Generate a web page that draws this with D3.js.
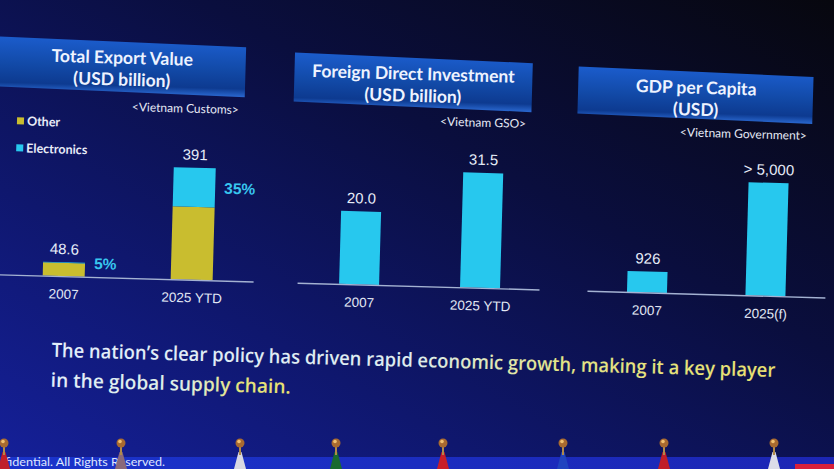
<!DOCTYPE html>
<html>
<head>
<meta charset="utf-8">
<script src="https://cdn.jsdelivr.net/npm/d3@7"></script>
<style>
  html, body { margin: 0; padding: 0; background: #0a0d2e; overflow: hidden; }
</style>
</head>
<body>
<div id="chart"></div>
<script>
// ---- data ----
const exportYears = ['2007', '2025 YTD']
const exportTotal = [48.6, 391]
const electronicsShare = [0.05, 0.35]
const exportLabels = ['48.6', '391']
const shareLabels = ['5%', '35%']

const fdiYears = ['2007', '2025 YTD']
const fdiValues = [20.0, 31.5]
const fdiLabels = ['20.0', '31.5']

const gdpYears = ['2007', '2025(f)']
const gdpValues = [926, 5000]
const gdpLabels = ['926', '> 5,000']

const legendItems = ['Other', 'Electronics']

const headline = [
  'The nation\u2019s clear policy has driven rapid economic growth, making it a key player',
  'in the global supply chain.'
]

const width = 834
const height = 469
const cyan = '#27c8ee'
const olive = '#c9bd2f'

const svg = d3.select('#chart')
  .append('svg')
  .attr('width', width)
  .attr('height', height)

const defs = svg.append('defs')

// background: navy bottom-left fading to near black top-right
const bg = defs.append('linearGradient').attr('id', 'bg')
  .attr('x1', '0').attr('y1', '1').attr('x2', '1').attr('y2', '0')
bg.append('stop').attr('offset', '0').attr('stop-color', '#15209a')
bg.append('stop').attr('offset', '0.3').attr('stop-color', '#0f176e')
bg.append('stop').attr('offset', '0.62').attr('stop-color', '#0a0e3e')
bg.append('stop').attr('offset', '1').attr('stop-color', '#07070e')

const banner = defs.append('linearGradient').attr('id', 'banner')
  .attr('x1', '0').attr('y1', '0').attr('x2', '0').attr('y2', '1')
banner.append('stop').attr('offset', '0').attr('stop-color', '#1b5ccc')
banner.append('stop').attr('offset', '0.5').attr('stop-color', '#124aa8')
banner.append('stop').attr('offset', '0.85').attr('stop-color', '#0d3a90')
banner.append('stop').attr('offset', '1').attr('stop-color', '#2a68d0')

// one gradient per headline line (bounding box units)
const txtStops = [
  [[0, '#e2eefc'], [0.5, '#dcecf0'], [0.7, '#e2e488'], [1, '#e8e070']],
  [[0, '#e2eefc'], [0.55, '#dceee6'], [0.78, '#e4e47e'], [1, '#e8e070']]
]
txtStops.forEach((stops, j) => {
  const gr = defs.append('linearGradient').attr('id', 'txt' + j)
    .attr('x1', '0').attr('y1', '0').attr('x2', '1').attr('y2', '0')
  stops.forEach(s => gr.append('stop').attr('offset', s[0]).attr('stop-color', s[1]))
})

const strip = defs.append('linearGradient').attr('id', 'strip')
strip.append('stop').attr('offset', '0').attr('stop-color', '#1a34cc')
strip.append('stop').attr('offset', '1').attr('stop-color', '#1c26b4')

svg.append('rect')
  .attr('width', width).attr('height', height)
  .attr('fill', 'url(#bg)')

// the photo is taken slightly tilted
const slide = svg.append('g').attr('transform', 'rotate(1.6, 417, 234)')

const panels = [
  {
    title: ['Total Export Value', '(USD billion)'], source: '<Vietnam Customs>',
    years: exportYears, values: exportTotal, labels: exportLabels,
    cx: 117.5, bx: [-15, 241], by: [50, 100], srcX: 235.5, srcY: 119,
    xr: [65, 193], bw: 42, h: 112, base: [-4, 255]
  },
  {
    title: ['Foreign Direct Investment', '(USD billion)'], source: '<Vietnam GSO>',
    years: fdiYears, values: fdiValues, labels: fdiLabels,
    cx: 409, bx: [290, 528], by: [58, 107], srcX: 523, srcY: 125,
    xr: [360.5, 481.5], bw: 40, h: 115, base: [299, 541]
  },
  {
    title: ['GDP per Capita', '(USD)'], source: '<Vietnam Government>',
    years: gdpYears, values: gdpValues, labels: gdpLabels,
    cx: 692, bx: [574, 809], by: [64, 111], srcX: 804, srcY: 129,
    xr: [648.5, 767], bw: 40, h: 113, base: [589, 827]
  }
]

const baseY = 286

panels.forEach((p, i) => {
  const g = slide.append('g')

  // title banner, a little skewed by the camera angle
  const sk = 2
  g.append('polygon')
    .attr('points', [
      [p.bx[0], p.by[0] - sk], [p.bx[1], p.by[0] + sk],
      [p.bx[1], p.by[1] + sk], [p.bx[0], p.by[1] - sk]
    ].map(d => d.join(',')).join(' '))
    .attr('fill', 'url(#banner)')

  g.selectAll('.title')
    .data(p.title)
    .enter()
    .append('text')
    .attr('x', p.cx)
    .attr('y', (d, j) => p.by[0] + 22 + j * 22)
    .attr('text-anchor', 'middle')
    .attr('font-family', 'Lato, sans-serif')
    .attr('font-weight', 'bold')
    .attr('font-size', 17.5)
    .attr('fill', '#eef3ff')
    .text(d => d)

  g.append('text')
    .attr('x', p.srcX)
    .attr('y', p.srcY)
    .attr('text-anchor', 'end')
    .attr('font-family', 'Lato, sans-serif')
    .attr('font-size', 12)
    .attr('fill', '#e4e8f4')
    .text(p.source)

  const x = d3.scalePoint().domain(p.years).range(p.xr)
  const y = d3.scaleLinear()
    .domain([0, d3.max(p.values)])
    .range([baseY, baseY - p.h])

  const rows = p.years.map((yr, j) => ({ yr, v: p.values[j], label: p.labels[j], j }))

  if (i === 0) {
    // stacked: other (bottom) + electronics (top)
    const stackRows = rows.map(r => ({
      yr: r.yr,
      other: r.v * (1 - electronicsShare[r.j]),
      electronics: r.v * electronicsShare[r.j]
    }))
    const stacked = d3.stack().keys(['other', 'electronics'])(stackRows)
    const colors = { other: olive, electronics: cyan }
    g.selectAll('.layer')
      .data(stacked)
      .enter()
      .append('g')
      .attr('fill', d => colors[d.key])
      .selectAll('rect')
      .data(d => d)
      .enter()
      .append('rect')
      .attr('x', d => x(d.data.yr) - p.bw / 2)
      .attr('y', d => y(d[1]))
      .attr('width', p.bw)
      .attr('height', d => y(d[0]) - y(d[1]))

    // share labels beside the electronics segment
    g.selectAll('.share')
      .data(stacked[1])
      .enter()
      .append('text')
      .attr('x', d => x(d.data.yr) + p.bw / 2 + 9)
      .attr('y', d => (y(d[0]) + y(d[1])) / 2 + 5.5)
      .attr('font-family', 'Liberation Sans, Arial, sans-serif')
      .attr('font-weight', 'bold')
      .attr('font-size', 15.5)
      .attr('fill', '#38c6ef')
      .text((d, j) => shareLabels[j])

    // legend
    const lg = g.selectAll('.legend')
      .data(legendItems)
      .enter()
      .append('g')
      .attr('transform', (d, j) => `translate(14, ${132 + j * 27})`)
    lg.append('rect')
      .attr('y', -3.5).attr('width', 7).attr('height', 7)
      .attr('fill', d => d === 'Other' ? olive : cyan)
    lg.append('text')
      .attr('x', 10).attr('y', 4.5)
      .attr('font-family', 'Lato, sans-serif')
      .attr('font-weight', 'bold')
      .attr('font-size', 12.5)
      .attr('fill', '#e8ecf8')
      .text(d => d)
  } else {
    g.selectAll('.bar')
      .data(rows)
      .enter()
      .append('rect')
      .attr('x', d => x(d.yr) - p.bw / 2)
      .attr('y', d => y(d.v))
      .attr('width', p.bw)
      .attr('height', d => baseY - y(d.v))
      .attr('fill', cyan)
  }

  // baseline
  g.append('line')
    .attr('x1', p.base[0]).attr('x2', p.base[1])
    .attr('y1', baseY + 0.5).attr('y2', baseY + 0.5)
    .attr('stroke', '#a4b2d2')
    .attr('stroke-width', 1.4)

  // value labels above the bars
  g.selectAll('.val')
    .data(rows)
    .enter()
    .append('text')
    .attr('x', d => x(d.yr))
    .attr('y', d => y(d.v) - 8)
    .attr('text-anchor', 'middle')
    .attr('font-family', 'Liberation Sans, Arial, sans-serif')
    .attr('font-size', 15)
    .attr('fill', '#e6ecf8')
    .text(d => d.label)

  // category axis labels
  g.append('g')
    .attr('transform', `translate(0, ${baseY})`)
    .call(d3.axisBottom(x).tickSize(0).tickPadding(13))
    .call(a => a.select('.domain').remove())
    .call(a => a.selectAll('text')
      .attr('font-family', 'Liberation Sans, Arial, sans-serif')
      .attr('font-size', 13.5)
      .attr('fill', '#e2e8f4'))
})

// headline text
slide.selectAll('.headline')
  .data(headline)
  .enter()
  .append('text')
  .attr('x', 55)
  .attr('y', (d, j) => 367 + j * 30)
  .attr('font-family', 'Open Sans, sans-serif')
  .attr('font-weight', 600)
  .attr('font-size', 19.5)
  .attr('fill', (d, j) => `url(#txt${j})`)
  .attr('textLength', (d, j) => j === 0 ? 724 : 240)
  .attr('lengthAdjust', 'spacingAndGlyphs')
  .text(d => d)

// stage in front of the screen: blue strip and flag poles
const poleX = [4, 121, 240, 336, 443, 563, 664, 774]
const flagColors = ['#c0202a', '#8a6a7a', '#d8d8e2', '#1a6a30', '#c81e28', '#2044c0', '#c01e28', '#dcdce8']

svg.append('rect')
  .attr('x', 0).attr('y', 457).attr('width', width).attr('height', 12)
  .attr('fill', 'url(#strip)')
svg.append('rect')
  .attr('x', 795).attr('y', 464).attr('width', 39).attr('height', 5)
  .attr('fill', '#d8203a')
svg.append('text')
  .attr('x', 5).attr('y', 466)
  .attr('font-family', 'Lato, sans-serif')
  .attr('font-size', 12)
  .attr('fill', '#dfe6ff')
  .attr('textLength', 160)
  .attr('lengthAdjust', 'spacingAndGlyphs')
  .text('fidential. All Rights Reserved.')

const poles = svg.selectAll('.pole')
  .data(poleX)
  .enter()
  .append('g')
  .attr('transform', d => `translate(${d}, 0)`)
poles.append('path')
  .attr('d', 'M-1.5,452 L1.5,452 L6,469 L-6,469 Z')
  .attr('fill', (d, j) => flagColors[j])
poles.append('rect')
  .attr('x', -1).attr('y', 447).attr('width', 2).attr('height', 8)
  .attr('fill', '#b08a4a')
poles.append('circle')
  .attr('cy', 443).attr('r', 4.5)
  .attr('fill', '#a86a30')
poles.append('circle')
  .attr('cx', -1).attr('cy', 441.5).attr('r', 1.8)
  .attr('fill', '#f0c070')
</script>
</body>
</html>
